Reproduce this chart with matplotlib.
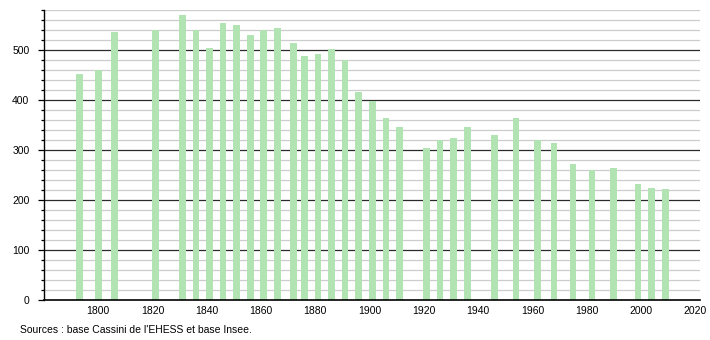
import matplotlib
matplotlib.use("Agg")
import matplotlib.pyplot as plt
from matplotlib.ticker import MultipleLocator

plt.rcParams['font.family'] = ['Liberation Sans', 'DejaVu Sans']

years = [1793, 1800, 1806, 1821, 1831, 1836, 1841, 1846, 1851, 1856, 1861, 1866,
         1872, 1876, 1881, 1886, 1891, 1896, 1901, 1906, 1911, 1921, 1926, 1931,
         1936, 1946, 1954, 1962, 1968, 1975, 1982, 1990, 1999, 2004, 2009]
population = [452, 460, 537, 540, 571, 540, 505, 555, 551, 531, 540, 545,
              515, 489, 493, 503, 480, 417, 399, 365, 347, 305, 321, 325,
              347, 331, 365, 320, 315, 273, 260, 265, 233, 225, 223]
xticks = [1800, 1820, 1840, 1860, 1880, 1900, 1920, 1940, 1960, 1980, 2000, 2020]
yticks = [0, 100, 200, 300, 400, 500]
source_text = "Sources : base Cassini de l'EHESS et base Insee."

fig = plt.figure(figsize=(7.1, 3.4), dpi=100)
ax = fig.add_axes([44/710, 1 - 300/340, 656/710, 290/340])

# grid lines
for v in range(20, 581, 20):
    if v % 100 == 0:
        ax.axhline(v, color='#2a2a2a', lw=0.9, zorder=1)
    else:
        ax.axhline(v, color='#cccccc', lw=0.9, zorder=1)

ax.bar(years, population, width=2.45, color='#b2e3b2', zorder=2)

ax.set_xlim(1780, 2021.8)
ax.set_ylim(0, 580)
ax.set_xticks(xticks)
ax.set_yticks(yticks)
ax.yaxis.set_minor_locator(MultipleLocator(20))
ax.tick_params(axis='x', length=0, pad=4, labelsize=7.5)
ax.tick_params(axis='y', which='major', length=4, width=0.9, pad=6.5, labelsize=7.5)
ax.tick_params(axis='y', which='minor', length=2, width=0.9)
for s in ['top', 'right']:
    ax.spines[s].set_visible(False)
ax.spines['left'].set_linewidth(1.0)
ax.spines['bottom'].set_linewidth(1.2)
ax.spines['bottom'].set_zorder(3)

fig.text(20/710, 1 - 330/340, source_text, fontsize=7.5, va='center', ha='left')

fig.savefig('out.png', dpi=100)
